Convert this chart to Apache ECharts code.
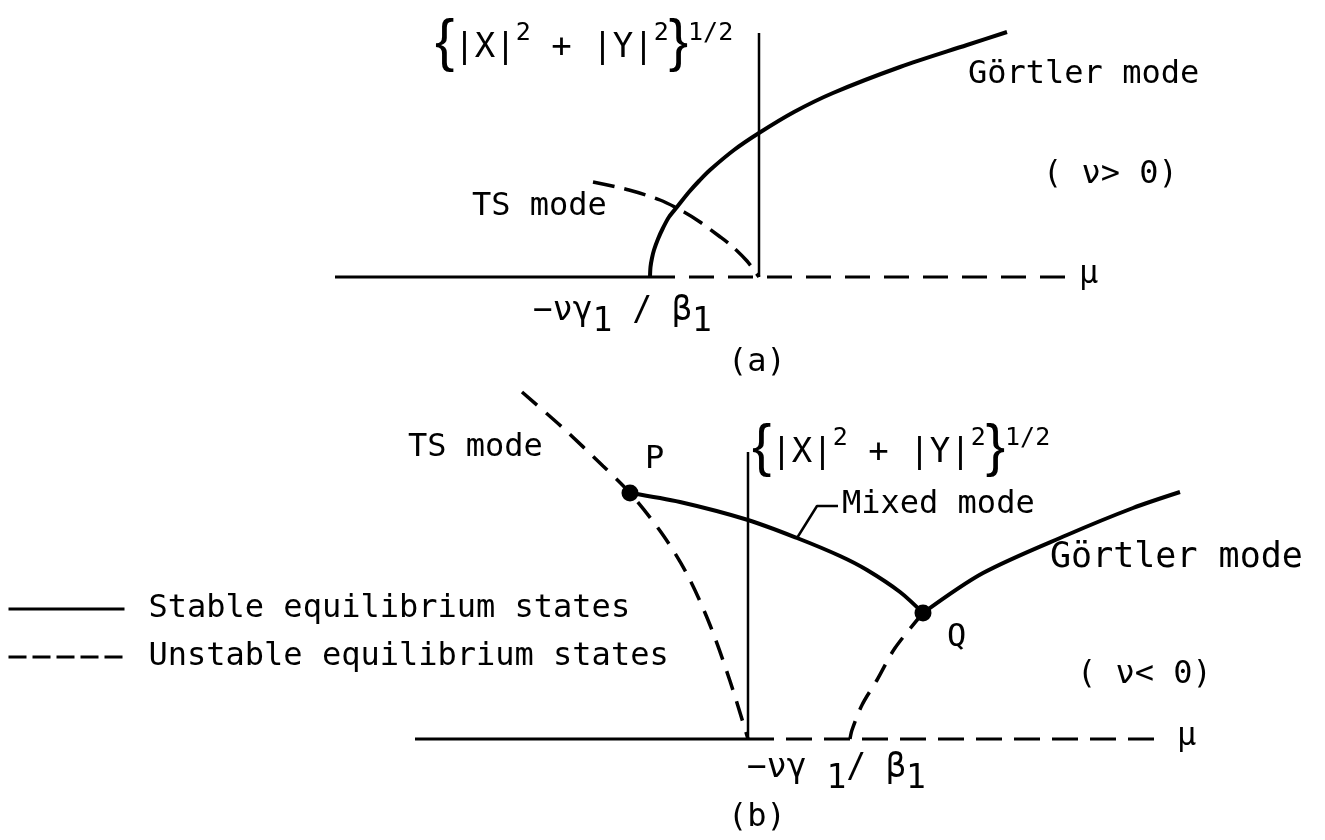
<!DOCTYPE html>
<html>
<head>
<meta charset="utf-8">
<script src="https://cdn.jsdelivr.net/npm/echarts@6/dist/echarts.min.js"></script>
<style>
  html, body { margin: 0; padding: 0; background: #fff; }
  #chart { width: 1325px; height: 840px; }
</style>
</head>
<body>
<div id="chart"></div>
<script>
// Equilibrium branches, amplitude {|X|^2+|Y|^2}^(1/2) against mu.
// Units: mu measured from the ordinate, amplitude from the mu axis.

// ---- (a)  nu > 0 ----
const aTrivialStable   = [[-4.24, 0], [-1.09, 0]];
const aTrivialUnstable = [[-1.09, 0], [3.14, 0]];
const aGortler = [[-1.09, 0], [-1.085, 0.10], [-1.07, 0.19], [-1.05, 0.27], [-1.01, 0.38],
                  [-0.96, 0.49], [-0.90, 0.60], [-0.82, 0.70], [-0.70, 0.85], [-0.60, 0.96],
                  [-0.49, 1.07], [-0.25, 1.27], [0, 1.44], [0.35, 1.65], [0.74, 1.84],
                  [1.41, 2.10], [2.08, 2.32], [2.48, 2.45]];
const aTS = [[-1.66, 0.95], [-1.30, 0.87], [-0.99, 0.77], [-0.75, 0.65], [-0.59, 0.55],
             [-0.40, 0.41], [-0.26, 0.30], [-0.12, 0.16], [0, 0]];
const aOrdinate = [[0, 0], [0, 2.44]];

// ---- (b)  nu < 0 ----
const bTrivialStable   = [[-3.33, 0], [0, 0]];
const bTrivialUnstable = [[0, 0], [4.07, 0]];
const bTS = [[-2.26, 3.47], [-1.85, 3.11], [-1.45, 2.73], [-1.18, 2.46], [-0.85, 2.04],
             [-0.60, 1.63], [-0.38, 1.14], [-0.18, 0.58], [0, 0]];
const bMixed = [[-1.18, 2.46], [-0.68, 2.37], [0, 2.19], [0.49, 2.01], [0.92, 1.83],
                [1.19, 1.69], [1.52, 1.47], [1.75, 1.26]];
const bGortler = [[1.75, 1.26], [2.35, 1.66], [3.19, 2.04], [3.85, 2.31], [4.32, 2.47]];
const bQBranch = [[1.75, 1.26], [1.47, 0.91], [1.29, 0.59], [1.14, 0.34], [1.04, 0.09], [1.02, 0]];
const bOrdinate = [[0, 0], [0, 2.87]];
const bJunctions = [[-1.18, 2.46], [1.75, 1.26]];          // P, Q
const bMixedPointer = [[0.49, 2.01], [0.69, 2.33], [0.90, 2.33]];

// Legend entries
const stableName = 'Stable equilibrium states';
const unstableName = 'Unstable equilibrium states';

// Text annotations: kind, text, anchor (left-middle) in data units
const aNotes = [
  { kind: 'amp',   text: '', at: [-3.24, 2.33] },
  { kind: 'plain', text: 'Görtler mode', at: [2.09, 2.02] },
  { kind: 'plain', text: '( ν> 0)', at: [2.84, 1.02] },
  { kind: 'plain', text: 'TS mode', at: [-2.87, 0.70] },
  { kind: 'ratio', text: '{t|−νγ}{s|1}{t| / β}{s|1}', at: [-2.26, -0.34] },
  { kind: 'plain', text: '(a)', at: [-0.31, -0.86] },
  { kind: 'plain', text: 'μ', at: [3.20, 0.02] }
];
const bNotes = [
  { kind: 'plain', text: 'TS mode', at: [-3.40, 2.91] },
  { kind: 'plain', text: 'P', at: [-1.03, 2.79] },
  { kind: 'amp',   text: '', at: [0.04, 2.90] },
  { kind: 'plain', text: 'Mixed mode', at: [0.94, 2.34] },
  { kind: 'wide',  text: 'Görtler mode', at: [3.02, 1.81] },
  { kind: 'plain', text: 'Q', at: [1.99, 1.01] },
  { kind: 'plain', text: '( ν< 0)', at: [3.29, 0.64] },
  { kind: 'ratio', text: '{t|−νγ }{s|1}{t|/ β}{s|1}', at: [-0.01, -0.29] },
  { kind: 'plain', text: '(b)', at: [-0.20, -0.79] },
  { kind: 'plain', text: 'μ', at: [4.29, 0.02] }
];

const MONO = '"DejaVu Sans Mono", monospace';
const INK = '#000';
const AMP_TEXT = '{' + '{m||X|}{p|2}{m| + |Y|}{p|2}' + '}' + '{p|1/2}';

// Rich text pieces: all centred on the line, shifted by asymmetric padding
const rich = {
  m: { fontFamily: MONO, fontSize: 34, color: INK, verticalAlign: 'middle', padding: [8, 0, 0, 0] },
  p: { fontFamily: MONO, fontSize: 25, color: INK, verticalAlign: 'middle', padding: [0, 0, 22, 0] },
  t: { fontFamily: MONO, fontSize: 33, color: INK, verticalAlign: 'middle' },
  s: { fontFamily: MONO, fontSize: 33, color: INK, verticalAlign: 'middle', padding: [22, 0, 0, 0] }
};

function line(name, data, idx, width, dash) {
  return {
    type: 'line', name: name, data: data,
    xAxisIndex: idx, yAxisIndex: idx,
    showSymbol: false, symbol: 'none',
    smooth: data.length > 2 ? 0.3 : false,
    color: INK,
    itemStyle: { color: INK },
    lineStyle: { color: INK, width: width, type: dash || 'solid' },
    emphasis: { disabled: true }, silent: true, z: 2
  };
}

function notes(list, idx) {
  return {
    type: 'scatter', xAxisIndex: idx, yAxisIndex: idx,
    symbolSize: 0, silent: true, z: 5,
    itemStyle: { color: INK, opacity: 1 },
    data: list.map(n => {
      const item = { value: n.at, text: n.text };
      if (n.kind === 'amp') {
        item.label = { fontFamily: '"Liberation Sans", sans-serif', fontSize: 58 };
        item.text = AMP_TEXT;
      } else if (n.kind === 'wide') {
        item.label = { fontSize: 35 };
      }
      return item;
    }),
    label: {
      show: true, position: 'inside', align: 'left', verticalAlign: 'middle',
      fontFamily: MONO, fontSize: 32, color: INK, rich: rich,
      formatter: p => p.data.text
    }
  };
}

const chart = echarts.init(document.getElementById('chart'), null, { renderer: 'canvas' });
chart.setOption({
  backgroundColor: '#fff',
  animation: false,
  grid: [
    { left: 309, top: 17, width: 800, height: 360 },
    { left: 298, top: 379, width: 900, height: 460 }
  ],
  xAxis: [
    { type: 'value', gridIndex: 0, min: -4.5, max: 3.5, show: false },
    { type: 'value', gridIndex: 1, min: -4.5, max: 4.5, show: false }
  ],
  yAxis: [
    { type: 'value', gridIndex: 0, min: -1.0, max: 2.6, show: false },
    { type: 'value', gridIndex: 1, min: -1.0, max: 3.6, show: false }
  ],
  legend: {
    orient: 'vertical', left: 7, top: 589, padding: 0,
    itemWidth: 116, itemHeight: 14, itemGap: 8,
    selectedMode: false,
    itemStyle: { opacity: 0 },
    textStyle: { fontFamily: MONO, fontSize: 32, lineHeight: 40, color: INK, padding: [0, 0, 0, 19] },
    data: [
      { name: stableName, lineStyle: { type: 'solid', width: 3, color: INK } },
      { name: unstableName, lineStyle: { type: [18, 6], width: 3, color: INK } }
    ]
  },
  series: [
    line(stableName, aTrivialStable, 0, 3),
    line(unstableName, aTrivialUnstable, 0, 3, [25, 14]),
    line(stableName, aGortler, 0, 4),
    line(unstableName, aTS, 0, 3.5, [22, 10]),
    line('ordinate-a', aOrdinate, 0, 2.5),

    line(stableName, bTrivialStable, 1, 3),
    line(unstableName, bTrivialUnstable, 1, 3, [26, 12]),
    line(unstableName, bTS, 1, 3.5, [20, 12]),
    line(stableName, bMixed, 1, 4),
    line(stableName, bGortler, 1, 4),
    line(unstableName, bQBranch, 1, 3.5, [20, 12]),
    line('ordinate-b', bOrdinate, 1, 2.5),
    Object.assign(line('pointer', bMixedPointer, 1, 2.5), { smooth: false }),
    {
      type: 'scatter', xAxisIndex: 1, yAxisIndex: 1, data: bJunctions,
      symbol: 'circle', symbolSize: 17, itemStyle: { color: INK, opacity: 1 }, silent: true, z: 4
    },
    notes(aNotes, 0),
    notes(bNotes, 1)
  ]
});
</script>
</body>
</html>
